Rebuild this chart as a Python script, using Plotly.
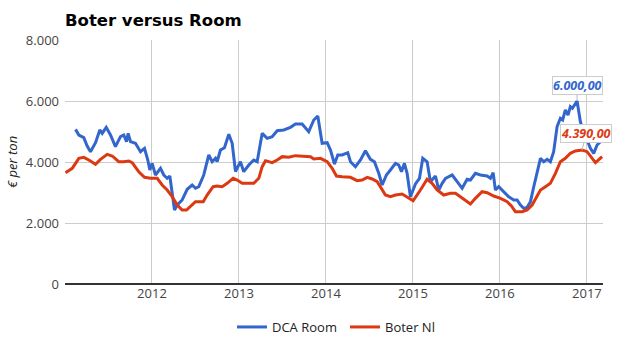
import plotly.graph_objects as go

# Decimal-year positions and values
room_x = [2011.121, 2011.159, 2011.216, 2011.255, 2011.293, 2011.351, 2011.400, 2011.428, 2011.474,
          2011.523, 2011.580, 2011.638, 2011.676, 2011.707, 2011.726, 2011.753, 2011.810, 2011.868,
          2011.914, 2011.952, 2011.975, 2012.002, 2012.040, 2012.098, 2012.136, 2012.175, 2012.205,
          2012.232, 2012.259, 2012.290, 2012.347, 2012.405, 2012.462, 2012.500, 2012.538, 2012.595,
          2012.653, 2012.692, 2012.730, 2012.749, 2012.787, 2012.833, 2012.883, 2012.922, 2012.960,
          2013.017, 2013.055, 2013.113, 2013.170, 2013.209, 2013.267, 2013.324, 2013.382, 2013.439,
          2013.515, 2013.592, 2013.649, 2013.726, 2013.802, 2013.860, 2013.906, 2013.956, 2014.014,
          2014.052, 2014.098, 2014.136, 2014.186, 2014.251, 2014.282, 2014.339, 2014.397, 2014.454,
          2014.511, 2014.557, 2014.607, 2014.646, 2014.695, 2014.741, 2014.799, 2014.837, 2014.868,
          2014.902, 2014.933, 2014.971, 2015.029, 2015.075, 2015.113, 2015.163, 2015.201, 2015.259,
          2015.297, 2015.336, 2015.374, 2015.451, 2015.508, 2015.566, 2015.623, 2015.661, 2015.718,
          2015.776, 2015.853, 2015.891, 2015.922, 2015.948, 2015.986, 2016.044, 2016.101, 2016.159,
          2016.198, 2016.236, 2016.274, 2016.313, 2016.351, 2016.389, 2016.428, 2016.466, 2016.504,
          2016.543, 2016.580, 2016.618, 2016.657, 2016.695, 2016.721, 2016.752, 2016.783, 2016.810,
          2016.833, 2016.887, 2016.925, 2016.963, 2017.002, 2017.040, 2017.078, 2017.117, 2017.175]
room_y = [5070, 4885, 4800, 4525, 4338, 4633, 5049, 4940, 5137,
          4885, 4502, 4830, 4885, 4666, 4940, 4666, 4612, 4338,
          4448, 4066, 3738, 3957, 3574, 3793, 3574, 3465, 3541,
          2973, 2426, 2590, 2754, 3105, 3246, 3138, 3190, 3574,
          4230, 4010, 4121, 4010, 4393, 4469, 4908, 4612, 3682,
          4010, 3682, 3902, 4066, 4010, 4940, 4776, 4830, 5027,
          5049, 5137, 5246, 5246, 4994, 5377, 5508, 4612, 4633,
          4393, 3934, 4230, 4230, 4306, 4010, 3846, 4066, 4371,
          4088, 4010, 3629, 3246, 3574, 3738, 3957, 3902, 3682,
          3957, 3629, 2862, 3280, 3465, 4121, 4010, 3354, 3541,
          3082, 3301, 3465, 3574, 3354, 3138, 3433, 3410, 3629,
          3574, 3541, 3465, 3650, 3082, 3190, 3027, 2862, 2754,
          2754, 2590, 2481, 2514, 2699, 3190, 3629, 4121, 4010,
          4088, 4010, 4338, 5158, 5432, 5377, 5705, 5541, 5814,
          5760, 6000, 5322, 4940, 4721, 4448, 4285, 4557, 4721]

boter_x = [2011.006, 2011.083, 2011.159, 2011.216, 2011.274, 2011.351, 2011.408, 2011.485, 2011.543,
           2011.618, 2011.676, 2011.733, 2011.772, 2011.848, 2011.914, 2011.983, 2012.060, 2012.117,
           2012.175, 2012.232, 2012.290, 2012.347, 2012.397, 2012.443, 2012.500, 2012.589, 2012.634,
           2012.703, 2012.749, 2012.807, 2012.864, 2012.933, 2012.979, 2013.037, 2013.170, 2013.228,
           2013.267, 2013.305, 2013.382, 2013.439, 2013.497, 2013.572, 2013.649, 2013.822, 2013.860,
           2013.937, 2014.014, 2014.071, 2014.121, 2014.186, 2014.282, 2014.359, 2014.416, 2014.474,
           2014.531, 2014.589, 2014.634, 2014.684, 2014.741, 2014.799, 2014.876, 2014.933, 2015.002,
           2015.086, 2015.163, 2015.220, 2015.278, 2015.354, 2015.431, 2015.489, 2015.566, 2015.661,
           2015.718, 2015.795, 2015.853, 2015.929, 2016.007, 2016.083, 2016.132, 2016.178, 2016.255,
           2016.313, 2016.370, 2016.428, 2016.466, 2016.523, 2016.580, 2016.638, 2016.695, 2016.752,
           2016.810, 2016.868, 2016.945, 2017.002, 2017.060, 2017.098, 2017.175]
boter_y = [3650, 3793, 4121, 4153, 4066, 3924, 4088, 4252, 4197,
           4010, 4010, 4033, 3979, 3682, 3498, 3465, 3465, 3246,
           3082, 2862, 2590, 2426, 2426, 2557, 2699, 2699, 2918,
           3190, 3213, 3190, 3301, 3465, 3410, 3301, 3301, 3465,
           3846, 4044, 3979, 4066, 4175, 4153, 4208, 4175, 4099,
           4121, 4010, 3793, 3541, 3519, 3498, 3388, 3410, 3498,
           3443, 3354, 3138, 2918, 2862, 2918, 2951, 2862, 2730,
           3082, 3433, 3301, 3082, 2918, 2973, 2973, 2809, 2623,
           2809, 3027, 2993, 2885, 2809, 2699, 2557, 2371, 2371,
           2426, 2590, 2862, 3082, 3190, 3301, 3629, 4010, 4121,
           4285, 4361, 4390, 4338, 4121, 3979, 4175]

year_ticks = [2012, 2013, 2014, 2015, 2016, 2017]
year_labels = ["2012", "2013", "2014", "2015", "2016", "2017"]
y_ticks = [0, 2000, 4000, 6000, 8000]
room_peak_x, room_peak_y, room_peak_label = 2016.887, 6000, "6.000,00"
boter_peak_x, boter_peak_y, boter_peak_label = 2016.945, 4390, "4.390,00"

BLUE = "#3366CC"
RED = "#DC3912"
FONT = "Open Sans"
L, R, T, B = 65, 22, 40, 71
PW = 625 - L - R

fig = go.Figure()
fig.add_trace(go.Scatter(x=room_x, y=room_y, mode="lines", name="DCA Room",
                         line=dict(color=BLUE, width=3)))
fig.add_trace(go.Scatter(x=boter_x, y=boter_y, mode="lines", name="Boter Nl",
                         line=dict(color=RED, width=3)))

fig.add_annotation(x=room_peak_x, y=room_peak_y, text="<b><i>" + room_peak_label + "</i></b>",
                   showarrow=True, arrowhead=0, arrowwidth=1, arrowcolor="#bbbbbb",
                   ax=0, ay=-16, font=dict(family=FONT, size=12.5, color=BLUE),
                   bgcolor="white", bordercolor="#cccccc", borderwidth=1, borderpad=0)
fig.add_annotation(x=boter_peak_x, y=boter_peak_y, text="<b><i>" + boter_peak_label + "</i></b>",
                   showarrow=True, arrowhead=0, arrowwidth=1, arrowcolor="#bbbbbb",
                   ax=4, ay=-17, font=dict(family=FONT, size=12.5, color=RED),
                   bgcolor="white", bordercolor="#cccccc", borderwidth=1, borderpad=0)
fig.add_annotation(xref="paper", yref="paper", x=(12 - L) / PW, y=0.5,
                   text="<i>€ per ton</i>", textangle=-90, showarrow=False,
                   xanchor="center", yanchor="middle",
                   font=dict(family=FONT, size=13, color="#222222"))

fig.update_layout(
    width=625, height=355,
    margin=dict(l=L, r=R, t=T, b=B),
    paper_bgcolor="white", plot_bgcolor="white",
    separators=",.",
    font=dict(family=FONT, size=13, color="#444444"),
    title=dict(text="<b>Boter versus Room</b>", x=L / 625, xanchor="left",
               y=1 - 20 / 355, yanchor="middle",
               font=dict(family="DejaVu Sans", size=16.5, color="#000000")),
    showlegend=True,
    legend=dict(orientation="h", x=0.5 + 11 / PW, xanchor="center", xref="paper",
                y=1 - 327 / 355, yanchor="middle", yref="container",
                font=dict(family=FONT, size=13, color="#222222"),
                itemwidth=30, entrywidth=68, entrywidthmode="pixels"),
    xaxis=dict(range=[2011.0, 2017.185], tickvals=year_ticks, ticktext=year_labels,
               showgrid=True, gridcolor="#cccccc", gridwidth=1, zeroline=False,
               showline=False, ticks="", automargin=False,
               tickfont=dict(size=13, color="#444444")),
    yaxis=dict(range=[0, 8000], tickvals=y_ticks, tickformat=",d",
               showgrid=True, gridcolor="#cccccc", gridwidth=1,
               zeroline=True, zerolinecolor="#333333", zerolinewidth=1.5,
               ticks="", automargin=False, ticklabelstandoff=5,
               tickfont=dict(size=13, color="#444444")),
)

fig.write_html("out.html", config={"displayModeBar": False},
               post_script="document.body.style.margin='0px';")
